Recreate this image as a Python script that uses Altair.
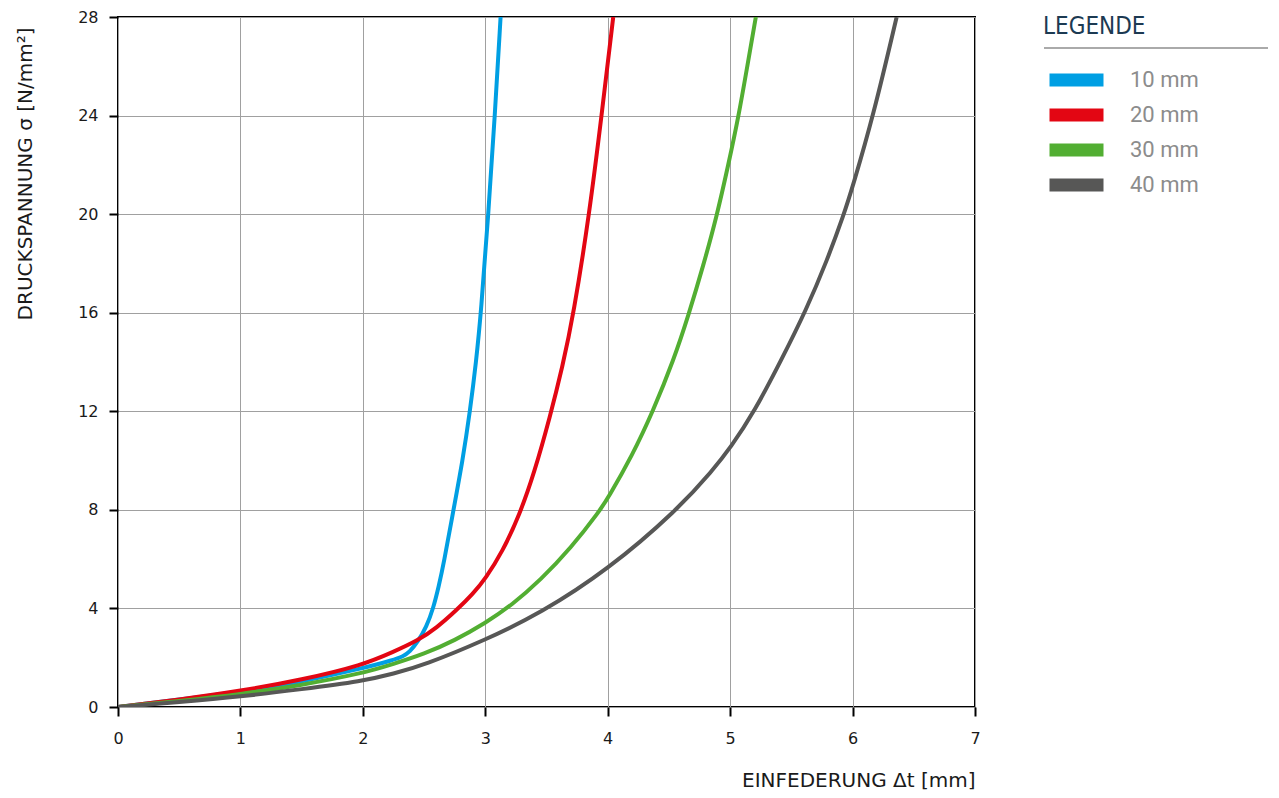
import altair as alt
import pandas as pd

series = ["10 mm", "20 mm", "30 mm", "40 mm"]
colors = ["#009FE3", "#E30613", "#52AE32", "#575756"]

x_10 = [0, 0.5, 1.0, 1.5, 2.0, 2.25, 2.33, 2.38, 2.45, 2.52, 2.575, 2.62, 2.66, 2.74, 2.815, 2.875, 2.925, 2.965, 3.025, 3.078, 3.125]
y_10 = [0, 0.3, 0.62, 1.02, 1.57, 1.91, 2.06, 2.22, 2.65, 3.26, 4.0, 4.9, 5.8, 8.0, 10.0, 12.0, 14.0, 16.0, 20.0, 24.0, 28.0]

x_20 = [0, 0.5, 1.0, 1.5, 2.0, 2.25, 2.45, 2.6, 2.77, 2.9, 3.0, 3.14, 3.28, 3.4, 3.53, 3.63, 3.72, 3.85, 3.95, 4.045]
y_20 = [0, 0.3, 0.65, 1.1, 1.7, 2.24, 2.7, 3.2, 3.95, 4.6, 5.2, 6.3, 7.8, 9.5, 11.8, 13.8, 15.9, 20.0, 24.0, 28.0]

x_30 = [0, 0.5, 1.0, 1.5, 2.0, 2.25, 2.5, 2.75, 3.0, 3.22, 3.45, 3.7, 3.94, 4.0, 4.2, 4.37, 4.54, 4.66, 4.78, 4.89, 4.985, 5.07, 5.14, 5.21]
y_30 = [0, 0.24, 0.51, 0.89, 1.37, 1.75, 2.15, 2.7, 3.4, 4.15, 5.15, 6.45, 8.0, 8.46, 10.2, 12.0, 14.1, 15.9, 17.9, 19.9, 22.0, 24.0, 26.0, 28.0]

x_40 = [0, 0.5, 1.0, 1.5, 2.0, 2.25, 2.5, 3.0, 3.45, 4.0, 4.57, 4.86, 5.0, 5.2, 5.42, 5.62, 5.79, 5.93, 6.0, 6.17, 6.36]
y_40 = [0, 0.2, 0.42, 0.72, 1.05, 1.35, 1.7, 2.72, 3.8, 5.56, 8.0, 9.62, 10.5, 12.0, 14.1, 16.1, 18.1, 20.0, 21.1, 24.0, 28.0]

x_ticks = [0, 1, 2, 3, 4, 5, 6, 7]
y_ticks = [0, 4, 8, 12, 16, 20, 24, 28]

rows = []
for name, xs, ys in zip(series, [x_10, x_20, x_30, x_40], [y_10, y_20, y_30, y_40]):
    for i, (a, b) in enumerate(zip(xs, ys)):
        rows.append({"Serie": name, "x": a, "y": b, "i": i})
df = pd.DataFrame(rows)

AX_FONT = "DejaVu Sans"

lines = alt.Chart(df).mark_line(strokeWidth=4, interpolate="basis", clip=True).encode(
    x=alt.X("x:Q", scale=alt.Scale(domain=[0, 7], nice=False),
            axis=alt.Axis(values=x_ticks, format="d", title="EINFEDERUNG Δt [mm]",
                          titleX=857, titleY=79, titleAlign="right", titleBaseline="alphabetic",
                          titleAnchor="end", labelFlush=False)),
    y=alt.Y("y:Q", scale=alt.Scale(domain=[0, 28], nice=False),
            axis=alt.Axis(values=y_ticks, format="d", title="DRUCKSPANNUNG σ [N/mm²]",
                          titleX=-87, titleY=10, titleAlign="right", titleBaseline="alphabetic",
                          titleAngle=-90, titleAnchor="end", labelFlush=False)),
    color=alt.Color("Serie:N", scale=alt.Scale(domain=series, range=colors),
                    legend=alt.Legend(title="LEGENDE", orient="none", legendX=925, legendY=-2,
                                      symbolType="stroke", symbolSize=2916, symbolStrokeWidth=13,
                                      clipHeight=22,
                                      labelFont="Roboto", labelFontSize=22, labelColor="#8c8c8c",
                                      labelOffset=20,
                                      titleFont="'Liberation Sans Narrow', 'DejaVu Sans Condensed', Roboto",
                                      titleFontSize=24, titleFontWeight="normal", titleColor="#1c3a52",
                                      titlePadding=30, rowPadding=13, padding=0)),
    order=alt.Order("i:Q"),
)

rule_df = pd.DataFrame({"k": [0]})
legend_rule = alt.Chart(rule_df).mark_rule(color="#aaaaaa", strokeWidth=2).encode(
    x=alt.value(926), x2=alt.value(1150), y=alt.value(31)
)

chart = alt.layer(lines, legend_rule).properties(
    width=857, height=690,
    autosize=alt.AutoSizeParams(type="none"),
    padding={"left": 110, "top": 9, "right": 296, "bottom": 83},
).configure_view(
    stroke="#000000", strokeWidth=2
).configure_axis(
    grid=True, gridColor="#a0a0a0", gridWidth=1, domain=False,
    ticks=True, tickColor="#000000", tickWidth=2, tickSize=9,
    labelFont=AX_FONT, labelFontSize=16, labelColor="#1a1a1a",
    titleFont=AX_FONT, titleFontSize=20, titleFontWeight="normal", titleColor="#1a1a1a",
).configure_axisX(labelPadding=14).configure_axisY(labelPadding=11)

chart.save("out.html", embed_options={"renderer": "svg", "actions": False})
